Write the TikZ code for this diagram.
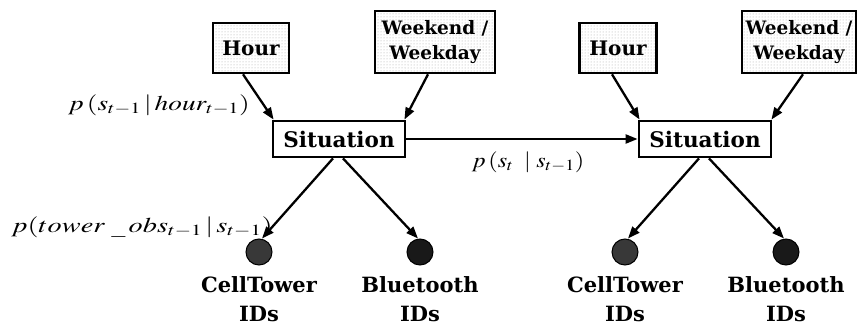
\documentclass[tikz,border=0pt]{standalone}
\usepackage{amsmath}
\usepackage{mathptmx}
\usepackage{fontspec}
\setmainfont{DejaVu Serif}
\usetikzlibrary{calc}
\usetikzlibrary{positioning}
\usetikzlibrary{patterns}
\usetikzlibrary{arrows.meta}

\tikzset{
  varbox/.style={draw,line width=2.6pt,pattern=dots,pattern color=gray!70,inner sep=0pt,font=\fontsize{20}{22}\selectfont\bfseries},
  wkbox/.style={varbox,align=center,font=\fontsize{18.5}{25}\selectfont\bfseries},
  sitbox/.style={draw,line width=2.8pt,fill=white,inner sep=0pt,minimum width=132pt,minimum height=36pt,font=\fontsize{21.5}{22}\selectfont\bfseries},
  obsdot/.style={circle,draw=black,line width=1pt,minimum size=26pt,inner sep=0pt},
  obstext/.style={align=center,font=\fontsize{21}{29}\selectfont\bfseries},
  link/.style={line width=2.3pt,-{Triangle[length=12pt,width=9pt]}},
  prob/.style={font=\fontsize{21}{24}\selectfont}
}

\begin{document}
\begin{tikzpicture}[x=1pt,y=-1pt]
\useasboundingbox (0,0) rectangle (857,329);

% slice t-1
\node[varbox,minimum width=76pt,minimum height=50pt] (hour a) at (251,48) {Hour};
\node[wkbox,minimum width=120pt,minimum height=62pt] (week a) at (435,42) {Weekend /\\Weekday};
\node[sitbox] (sit a) at (339,139) {Situation};
\node[obsdot,fill=black!78] (cell a) at (259,252) {};
\node[obsdot,fill=black!90] (blue a) at (420,252) {};
\node[obstext,below=8pt of cell a] {CellTower\\IDs};
\node[obstext,below=8pt of blue a] {Bluetooth\\IDs};

% slice t
\node[varbox,minimum width=77pt,minimum height=50pt] (hour b) at (618,48) {Hour};
\node[wkbox,minimum width=114pt,minimum height=62pt] (week b) at (799,42) {Weekend /\\Weekday};
\node[sitbox] (sit b) at (705,139) {Situation};
\node[obsdot,fill=black!78] (cell b) at (625,252) {};
\node[obsdot,fill=black!90] (blue b) at (786,252) {};
\node[obstext,below=8pt of cell b] {CellTower\\IDs};
\node[obstext,below=8pt of blue b] {Bluetooth\\IDs};

% edges
\draw[link] ($(hour a.south)+(-8,0)$) -- ($(sit a.north west)+(2,0)$);
\draw[link] ($(week a.south)+(-7,0)$) -- ($(sit a.north east)+(-2,0)$);
\draw[link] ($(hour b.south)+(-6,0)$) -- ($(sit b.north west)+(2,0)$);
\draw[link] ($(week b.south)+(4,0)$) -- ($(sit b.north east)+(-1,0)$);
\draw[link] (sit a.east) -- (sit b.west);
\draw[link] ($(sit a.south)+(-6,0)$) -- ($(cell a.north)+(3,0)$);
\draw[link] ($(sit a.south)+(4,0)$) -- ($(blue a.north)+(-2,0)$);
\draw[link] ($(sit b.south)+(-6,0)$) -- ($(cell b.north)+(3,0)$);
\draw[link] ($(sit b.south)+(4,0)$) -- ($(blue b.north)+(-2,0)$);

% probabilities
\node[prob] (p hour) at (159,105) {\scalebox{1.3}[1]{$p\,(s_{t-1}\,|\,hour_{t-1})$}};
\node[prob] (p trans) at (528,162) {\scalebox{1.15}[1]{$p\,(s_t\;\;|\;s_{t-1})$}};
\node[prob] (p obs) at (142,227) {\scalebox{1.35}[1]{$p(tower\;\_\,obs_{t-1}\,|\,s_{t-1})$}};
\end{tikzpicture}
\end{document}
